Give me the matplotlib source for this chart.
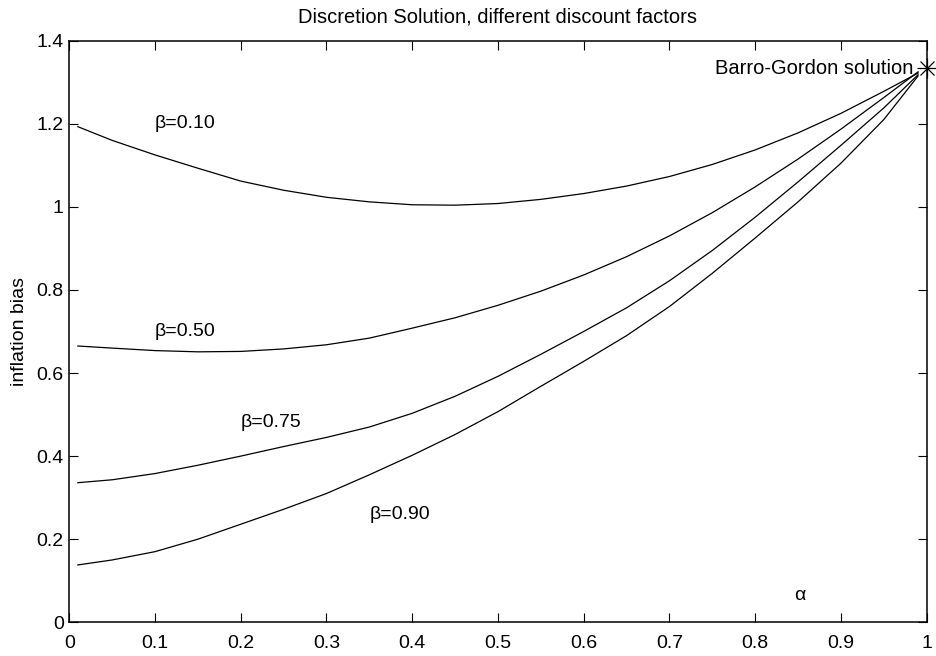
import matplotlib
matplotlib.use("Agg")
import matplotlib.pyplot as plt

# alpha grid the curves were read at
alpha = [0.01, 0.05, 0.10, 0.15, 0.20, 0.25, 0.30, 0.35, 0.40, 0.45, 0.50,
         0.55, 0.60, 0.65, 0.70, 0.75, 0.80, 0.85, 0.90, 0.95, 0.99]

bias_b010 = [1.193, 1.160, 1.125, 1.093, 1.062, 1.040, 1.023, 1.012, 1.005, 1.004, 1.008,
             1.018, 1.032, 1.050, 1.073, 1.102, 1.137, 1.178, 1.225, 1.278, 1.322]
bias_b050 = [0.665, 0.660, 0.654, 0.651, 0.652, 0.658, 0.668, 0.684, 0.708, 0.733, 0.763,
             0.797, 0.836, 0.880, 0.930, 0.986, 1.048, 1.115, 1.187, 1.263, 1.325]
bias_b075 = [0.336, 0.343, 0.358, 0.378, 0.400, 0.423, 0.445, 0.470, 0.503, 0.544, 0.592,
             0.645, 0.700, 0.757, 0.822, 0.895, 0.975, 1.060, 1.148, 1.238, 1.318]
bias_b090 = [0.138, 0.150, 0.170, 0.200, 0.236, 0.272, 0.310, 0.355, 0.402, 0.452, 0.507,
             0.568, 0.628, 0.690, 0.760, 0.840, 0.925, 1.012, 1.105, 1.210, 1.315]

curve_labels = ["β=0.10", "β=0.50", "β=0.75", "β=0.90"]
label_x = [0.10, 0.10, 0.20, 0.35]
label_y = [1.20, 0.70, 0.48, 0.26]

bg_alpha = 1.0
bg_bias = 4.0 / 3.0

plt.rcParams["font.family"] = ["Liberation Sans", "DejaVu Sans"]
plt.rcParams["font.size"] = 14

fig = plt.figure(figsize=(9.36, 6.56), dpi=100)
ax = fig.add_axes([0.0740, 0.0514, 0.9160, 0.8866])

for ys in (bias_b010, bias_b050, bias_b075, bias_b090):
    ax.plot(alpha, ys, color="black", linewidth=0.9)

# MATLAB-style asterisk at the Barro-Gordon point
ax.plot([bg_alpha], [bg_bias], marker="+", markersize=14, color="black",
        markeredgewidth=0.9, clip_on=False)
ax.plot([bg_alpha], [bg_bias], marker="x", markersize=10, color="black",
        markeredgewidth=0.9, clip_on=False)
ax.text(0.985, bg_bias, "Barro-Gordon solution", ha="right", va="center", fontsize=14.5)

for txt, lx, ly in zip(curve_labels, label_x, label_y):
    ax.text(lx, ly, txt, ha="left", va="center")
ax.text(0.845, 0.065, "α", ha="left", va="center")

ax.set_xlim(0, 1)
ax.set_ylim(0, 1.4)
ax.set_xticks([0, 0.1, 0.2, 0.3, 0.4, 0.5, 0.6, 0.7, 0.8, 0.9, 1])
ax.set_xticklabels(["0", "0.1", "0.2", "0.3", "0.4", "0.5", "0.6", "0.7", "0.8", "0.9", "1"])
ax.set_yticks([0, 0.2, 0.4, 0.6, 0.8, 1.0, 1.2, 1.4])
ax.set_yticklabels(["0", "0.2", "0.4", "0.6", "0.8", "1", "1.2", "1.4"])
ax.tick_params(direction="in", length=6.2, width=0.8, top=True, right=True,
               labelsize=14)
ax.tick_params(axis="x", pad=9)
ax.tick_params(axis="y", pad=4)
for sp in ax.spines.values():
    sp.set_linewidth(1.1)

ax.set_ylabel("inflation bias", fontsize=14, labelpad=6)
ax.set_title("Discretion Solution, different discount factors", fontsize=14.5, pad=13)

fig.savefig("out.png", dpi=100)
